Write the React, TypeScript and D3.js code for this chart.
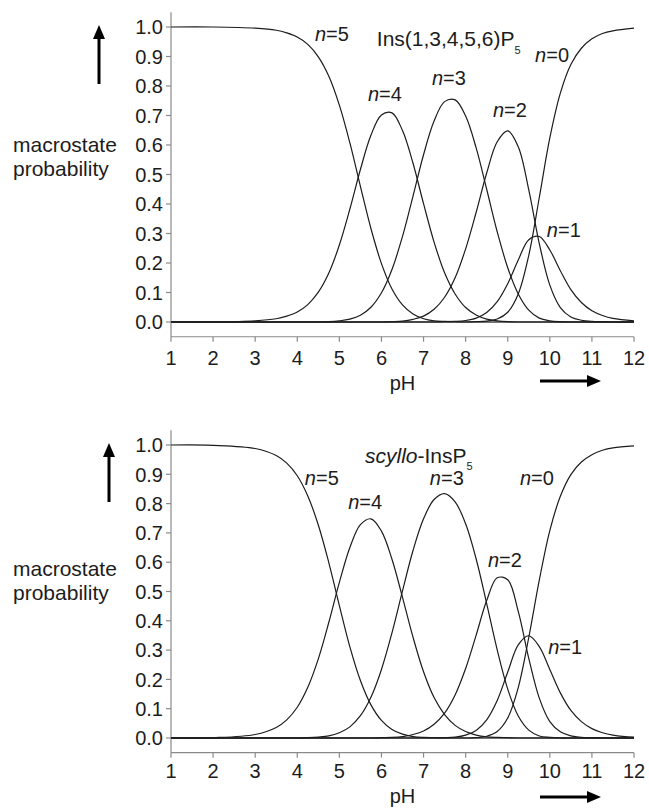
import React from 'react';
import * as d3 from 'd3';

// pH sampling points shared by all curves
const phValues = [1, 2, 3, 3.5, 3.75, 4, 4.25, 4.5, 4.75, 5, 5.25, 5.5, 5.75, 6, 6.25, 6.5, 6.75, 7, 7.25, 7.5, 7.75, 8, 8.25, 8.5, 8.75, 9, 9.25, 9.5, 9.75, 10, 10.25, 10.5, 10.75, 11, 11.25, 11.5, 12];

const xTicks = [1, 2, 3, 4, 5, 6, 7, 8, 9, 10, 11, 12];
const yTicks = [0, 0.1, 0.2, 0.3, 0.4, 0.5, 0.6, 0.7, 0.8, 0.9, 1.0];

// Ins(1,3,4,5,6)P5
const topN5 = [1, 1, 0.996, 0.989, 0.98, 0.966, 0.941, 0.899, 0.833, 0.735, 0.607, 0.46, 0.317, 0.198, 0.112, 0.058, 0.027, 0.011, 0.004, 0.002, 0.001, 0, 0, 0, 0, 0, 0, 0, 0, 0, 0, 0, 0, 0, 0, 0, 0];
const topN4 = [0, 0, 0.004, 0.011, 0.02, 0.034, 0.059, 0.101, 0.166, 0.261, 0.383, 0.517, 0.633, 0.702, 0.709, 0.649, 0.538, 0.401, 0.271, 0.167, 0.095, 0.049, 0.024, 0.01, 0.004, 0.001, 0, 0, 0, 0, 0, 0, 0, 0, 0, 0, 0];
const topN3 = [0, 0, 0, 0, 0, 0, 0, 0, 0.001, 0.004, 0.01, 0.023, 0.05, 0.099, 0.178, 0.29, 0.427, 0.567, 0.681, 0.747, 0.753, 0.698, 0.59, 0.45, 0.306, 0.184, 0.095, 0.04, 0.013, 0.004, 0.001, 0, 0, 0, 0, 0, 0];
const topN2 = [0, 0, 0, 0, 0, 0, 0, 0, 0, 0, 0, 0, 0, 0, 0.001, 0.003, 0.009, 0.02, 0.043, 0.084, 0.15, 0.248, 0.372, 0.505, 0.611, 0.648, 0.594, 0.448, 0.266, 0.125, 0.049, 0.017, 0.006, 0.002, 0.001, 0, 0];
const topN1 = [0, 0, 0, 0, 0, 0, 0, 0, 0, 0, 0, 0, 0, 0, 0, 0, 0, 0, 0, 0.001, 0.002, 0.005, 0.013, 0.032, 0.069, 0.13, 0.21, 0.279, 0.29, 0.244, 0.174, 0.11, 0.066, 0.038, 0.022, 0.012, 0.004];
const topN0 = [0, 0, 0, 0, 0, 0, 0, 0, 0, 0, 0, 0, 0, 0, 0, 0, 0, 0, 0, 0, 0, 0, 0.001, 0.003, 0.01, 0.033, 0.095, 0.226, 0.422, 0.624, 0.776, 0.873, 0.928, 0.96, 0.978, 0.987, 0.996];

// scyllo-InsP5
const botN5 = [1, 0.999, 0.988, 0.964, 0.938, 0.895, 0.826, 0.727, 0.598, 0.452, 0.311, 0.196, 0.113, 0.06, 0.029, 0.013, 0.005, 0.002, 0.001, 0, 0, 0, 0, 0, 0, 0, 0, 0, 0, 0, 0, 0, 0, 0, 0, 0, 0];
const botN4 = [0, 0.001, 0.012, 0.036, 0.062, 0.105, 0.173, 0.27, 0.395, 0.531, 0.65, 0.728, 0.748, 0.706, 0.61, 0.48, 0.344, 0.226, 0.138, 0.08, 0.043, 0.022, 0.01, 0.004, 0.002, 0.001, 0, 0, 0, 0, 0, 0, 0, 0, 0, 0, 0];
const botN3 = [0, 0, 0, 0, 0, 0, 0.001, 0.003, 0.007, 0.018, 0.038, 0.076, 0.139, 0.234, 0.359, 0.502, 0.64, 0.748, 0.814, 0.834, 0.806, 0.731, 0.611, 0.459, 0.301, 0.167, 0.075, 0.027, 0.007, 0.002, 0, 0, 0, 0, 0, 0, 0];
const botN2 = [0, 0, 0, 0, 0, 0, 0, 0, 0, 0, 0, 0, 0, 0.001, 0.002, 0.005, 0.012, 0.024, 0.047, 0.085, 0.147, 0.237, 0.351, 0.469, 0.547, 0.54, 0.432, 0.272, 0.136, 0.056, 0.021, 0.007, 0.002, 0.001, 0, 0, 0];
const botN1 = [0, 0, 0, 0, 0, 0, 0, 0, 0, 0, 0, 0, 0, 0, 0, 0, 0, 0, 0, 0.001, 0.003, 0.01, 0.026, 0.062, 0.128, 0.225, 0.318, 0.349, 0.312, 0.234, 0.154, 0.094, 0.056, 0.032, 0.018, 0.01, 0.003];
const botN0 = [0, 0, 0, 0, 0, 0, 0, 0, 0, 0, 0, 0, 0, 0, 0, 0, 0, 0, 0, 0, 0, 0, 0.001, 0.006, 0.022, 0.068, 0.172, 0.343, 0.539, 0.708, 0.825, 0.899, 0.942, 0.967, 0.982, 0.99, 0.997];

// curve labels: [n, pH, probability] of the text start / baseline
const topLabels = [[5, 4.42, 0.953], [0, 9.65, 0.881], [3, 7.2, 0.803], [4, 5.68, 0.749], [2, 8.65, 0.695], [1, 9.93, 0.288]];
const botLabels = [[5, 4.18, 0.863], [3, 7.15, 0.863], [0, 9.29, 0.863], [4, 5.21, 0.782], [2, 8.53, 0.584], [1, 9.96, 0.287]];

const FONT = '"Liberation Sans", Arial, Helvetica, sans-serif';
const INK = '#1c1c1c';
const AXIS = '#8a8a8a';

const x = d3.scaleLinear().domain([1, 12]).range([171, 634]);

function Panel({ zeroY, oneY, series, labels, title, arrowX, arrowTop, textY, pArrowY, tickGap, phGap }) {
  const y = d3.scaleLinear().domain([0, 1]).range([zeroY, oneY]);
  const yLo = y(-0.05);
  const yHi = y(1.05);
  const line = d3.line<number>()
    .x((d, i) => x(phValues[i]))
    .y(d => y(d))
    .curve(d3.curveCatmullRom);
  const fmt = d3.format('.1f');

  return (
    <g fontFamily={FONT} fill={INK}>
      {/* zero reference line */}
      <line x1={x(1)} x2={x(12)} y1={y(0)} y2={y(0)} stroke="#9a9a9a" strokeWidth={1.2} />
      {/* axes */}
      <line x1={x(1)} x2={x(1)} y1={yHi} y2={yLo} stroke={AXIS} strokeWidth={1.2} />
      <line x1={x(1)} x2={x(12)} y1={yLo} y2={yLo} stroke={AXIS} strokeWidth={1.2} />
      {yTicks.map(t => (
        <g key={'y' + t}>
          <line x1={x(1) - 5} x2={x(1)} y1={y(t)} y2={y(t)} stroke={AXIS} strokeWidth={1.2} />
          <text x={x(1) - 8} y={y(t)} dy="0.36em" textAnchor="end" fontSize={20}>{fmt(t)}</text>
        </g>
      ))}
      {xTicks.map(t => (
        <g key={'x' + t}>
          <line x1={x(t)} x2={x(t)} y1={yLo} y2={yLo + 5} stroke={AXIS} strokeWidth={1.2} />
          <text x={x(t)} y={yLo + tickGap} textAnchor="middle" fontSize={20}>{t}</text>
        </g>
      ))}
      <text x={(x(1) + x(12)) / 2} y={yLo + phGap} textAnchor="middle" fontSize={20}>pH</text>

      {/* y axis caption and arrows */}
      <text x={13} y={textY} fontSize={21}>macrostate</text>
      <text x={13} y={textY + 24} fontSize={21}>probability</text>
      <line x1={arrowX} x2={arrowX} y1={arrowTop + 10} y2={arrowTop + 59} stroke="#000" strokeWidth={3} />
      <path d={`M${arrowX},${arrowTop} L${arrowX - 6},${arrowTop + 14} L${arrowX + 6},${arrowTop + 14} Z`} fill="#000" />
      <line x1={540} x2={590} y1={pArrowY} y2={pArrowY} stroke="#000" strokeWidth={3} />
      <path d={`M601,${pArrowY} L587,${pArrowY - 6} L587,${pArrowY + 6} Z`} fill="#000" />

      {/* curves */}
      {series.map((s, i) => (
        <path key={i} d={line(s)} fill="none" stroke={INK} strokeWidth={1.2} />
      ))}

      {labels.map(([n, ph, p]) => (
        <text key={'n' + n} x={x(ph)} y={y(p)} fontSize={20}>
          <tspan fontStyle="italic">n</tspan>={n}
        </text>
      ))}
      {title}
    </g>
  );
}

export default function App() {
  const topY = d3.scaleLinear().domain([0, 1]).range([322, 27]);
  const botY = d3.scaleLinear().domain([0, 1]).range([738, 445]);
  return (
    <svg width={649} height={810} style={{ position: 'absolute', left: 0, top: 0, background: '#fff' }}>
      <rect width={649} height={810} fill="#fff" />
      <Panel
        zeroY={322} oneY={27}
        series={[topN5, topN4, topN3, topN2, topN1, topN0]}
        labels={topLabels}
        arrowX={99} arrowTop={25} textY={152} pArrowY={381}
        tickGap={28} phGap={53}
        title={
          <text x={x(5.89)} y={topY(0.936)} fontSize={21} fontFamily={FONT} fill={INK}>
            Ins(1,3,4,5,6)P<tspan fontSize={11} dy={8}>5</tspan>
          </text>
        }
      />
      <Panel
        zeroY={738} oneY={445}
        series={[botN5, botN4, botN3, botN2, botN1, botN0]}
        labels={botLabels}
        arrowX={109} arrowTop={443} textY={576} pArrowY={797}
        tickGap={25} phGap={50}
        title={
          <text x={x(5.61)} y={botY(0.939)} fontSize={21} fontFamily={FONT} fill={INK}>
            <tspan fontStyle="italic">scyllo</tspan>-InsP<tspan fontSize={11} dy={7}>5</tspan>
          </text>
        }
      />
    </svg>
  );
}
